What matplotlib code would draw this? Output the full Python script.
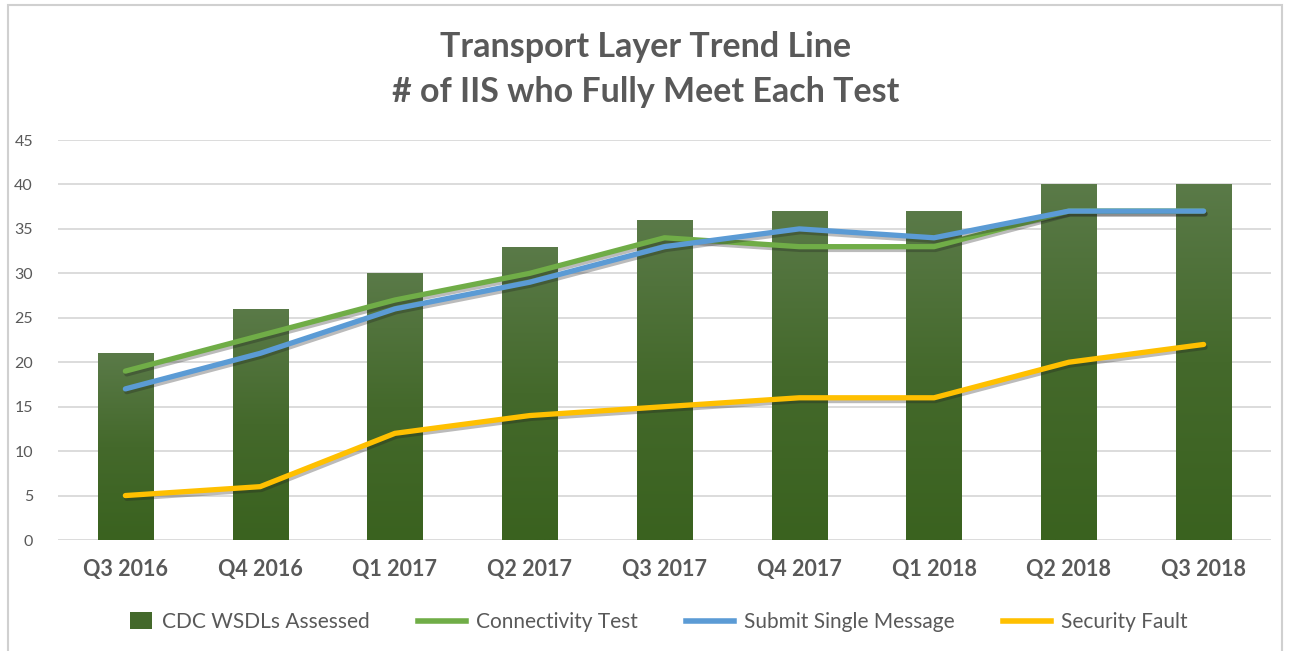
import numpy as np
import matplotlib
matplotlib.use("Agg")
import matplotlib.pyplot as plt
from matplotlib.patches import Rectangle, Patch
from matplotlib.lines import Line2D
from matplotlib.legend_handler import HandlerPatch
import matplotlib.patheffects as pe

plt.rcParams['font.family'] = ['Lato', 'DejaVu Sans']

quarters = ['Q3 2016', 'Q4 2016', 'Q1 2017', 'Q2 2017', 'Q3 2017',
            'Q4 2017', 'Q1 2018', 'Q2 2018', 'Q3 2018']
wsdls = [21, 26, 30, 33, 36, 37, 37, 40, 40]
connectivity = [19, 23, 27, 30, 34, 33, 33, 37, 37]
submit_single = [17, 21, 26, 29, 33, 35, 34, 37, 37]
security_fault = [5, 6, 12, 14, 15, 16, 16, 20, 22]
yticks = [0, 5, 10, 15, 20, 25, 30, 35, 40, 45]

txt = '#595959'


class SmallBox(HandlerPatch):
    # narrow square-ish swatch sitting at the right end of the handle area
    def create_artists(self, legend, orig_handle, xdescent, ydescent,
                       width, height, fontsize, trans):
        w = height * 1.5
        r = Rectangle((width - w - xdescent, -ydescent - 1), w, height + 2,
                      facecolor=orig_handle.get_facecolor(), edgecolor='none',
                      transform=trans)
        return [r]


fig = plt.figure(figsize=(12.92, 6.51), dpi=100)
fig.patches.append(Rectangle((8/1292, -0.01), (1282-8)/1292, 1 - 5/651 + 0.01,
                             transform=fig.transFigure, fill=False,
                             edgecolor='#d0d0d0', linewidth=1.5))

ax = fig.add_axes([58/1292, 1 - 540/651, (1271-58)/1292, 400/651])
x = np.arange(len(quarters))

# gradient bars
grad = np.linspace(0, 1, 256).reshape(-1, 1)
cmap = matplotlib.colors.LinearSegmentedColormap.from_list(
    'g', ['#3a621f', '#44692b', '#5a7a48'])
bars = ax.bar(x, wsdls, width=0.41, color='#4a6e30', zorder=2)
for b in bars:
    bx, by = b.get_x(), b.get_y()
    w, h = b.get_width(), b.get_height()
    im = ax.imshow(grad, extent=[bx, bx + w, by, by + h], origin='lower',
                   cmap=cmap, aspect='auto', zorder=2.1)
    im.set_clip_path(b)

shadow = [pe.SimpleLineShadow(offset=(1, -2), shadow_color='#202020', alpha=0.3), pe.Normal()]
ax.plot(x, connectivity, color='#70ad47', lw=3.8, solid_capstyle='round', zorder=3, path_effects=shadow)
ax.plot(x, submit_single, color='#5b9bd5', lw=3.8, solid_capstyle='round', zorder=4, path_effects=shadow)
ax.plot(x, security_fault, color='#ffc000', lw=3.8, solid_capstyle='round', zorder=5, path_effects=shadow)

ax.set_xlim(-0.5, len(quarters) - 0.5)
ax.set_ylim(0, 45)
ax.set_yticks(yticks)
ax.set_xticks(x)
ax.set_xticklabels(quarters, fontsize=15.5, fontweight='bold', color=txt)
ax.tick_params(axis='y', labelsize=11.5, labelcolor=txt, length=0, pad=18)
ax.tick_params(axis='x', length=0, pad=14)
ax.grid(axis='y', color='#d9d9d9', lw=1.3, zorder=0)
ax.set_axisbelow(True)
for s in ax.spines.values():
    s.set_visible(False)

fig.text(0.5, 1 - 47/651, 'Transport Layer Trend Line', ha='center', va='center',
         fontsize=24.5, fontweight='bold', color=txt)
fig.text(0.5, 1 - 92/651, '# of IIS who Fully Meet Each Test', ha='center', va='center',
         fontsize=24.5, fontweight='bold', color=txt)

handles = [Patch(facecolor='#44692b', label='CDC WSDLs Assessed'),
           Line2D([], [], color='#70ad47', lw=4, label='Connectivity Test'),
           Line2D([], [], color='#5b9bd5', lw=4, label='Submit Single Message'),
           Line2D([], [], color='#ffc000', lw=4, label='Security Fault')]
leg = fig.legend(handles=handles, loc='center', bbox_to_anchor=(0.5, 1 - 622/651),
                 ncol=4, frameon=False, fontsize=15, handlelength=2.3,
                 columnspacing=2.3, handletextpad=0.5,
                 handler_map={Patch: SmallBox()})
for t in leg.get_texts():
    t.set_color(txt)

fig.savefig('out.png', dpi=100)
